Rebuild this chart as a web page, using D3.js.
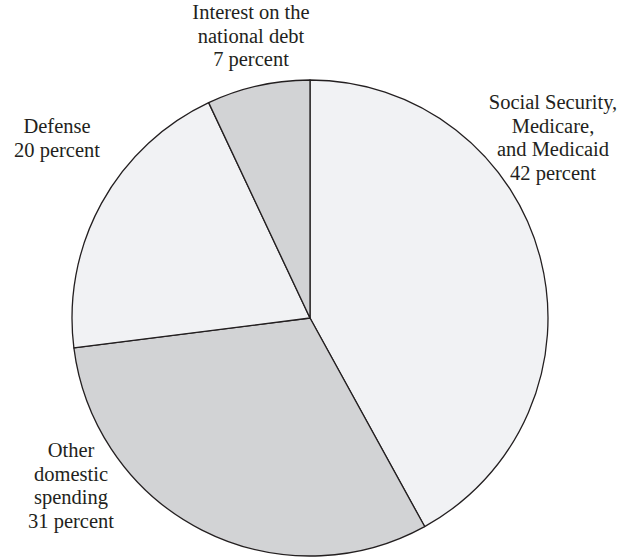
<!DOCTYPE html>
<html>
<head>
<meta charset="utf-8">
<script src="https://cdn.jsdelivr.net/npm/d3@7"></script>
<style>
  body { margin: 0; background: #fff; }
  text { font-family: "Liberation Serif", "DejaVu Serif", serif; fill: #231f20; }
</style>
</head>
<body>
<div id="chart"></div>
<script>
// Dati
const categories = [
  "Social Security, Medicare, and Medicaid",
  "Other domestic spending",
  "Defense",
  "Interest on the national debt"
];
const values = [42, 31, 20, 7];
const labelLines = [
  ["Social Security,", "Medicare,", "and Medicaid", "42 percent"],
  ["Other", "domestic", "spending", "31 percent"],
  ["Defense", "20 percent"],
  ["Interest on the", "national debt", "7 percent"]
];

const width = 619, height = 558;
const cx = 310, cy = 318, radius = 238;
const fills = ["#f1f2f4", "#d2d3d5", "#f1f2f4", "#d2d3d5"];
// baseline of first line for each label (centered text)
const labelPos = [[553, 109], [71, 457], [57, 133], [251, 19]];
const lineH = 23.5;

const svg = d3.select("#chart").append("svg")
  .attr("width", width)
  .attr("height", height);

const pie = d3.pie().sort(null).value(d => d)(values);
const arc = d3.arc().innerRadius(0).outerRadius(radius);

const g = svg.append("g").attr("transform", `translate(${cx},${cy})`);

g.selectAll("path")
  .data(pie)
  .join("path")
  .attr("d", arc)
  .attr("fill", (d, i) => fills[i])
  .attr("stroke", "#231f20")
  .attr("stroke-width", 1.3)
  .attr("stroke-linejoin", "round");

// Etichette
labelLines.forEach((lines, i) => {
  const t = svg.append("text")
    .attr("text-anchor", "middle")
    .attr("font-size", 20.5);
  lines.forEach((l, j) => {
    t.append("tspan")
      .attr("x", labelPos[i][0])
      .attr("y", labelPos[i][1] + j * lineH)
      .text(l);
  });
});
</script>
</body>
</html>
